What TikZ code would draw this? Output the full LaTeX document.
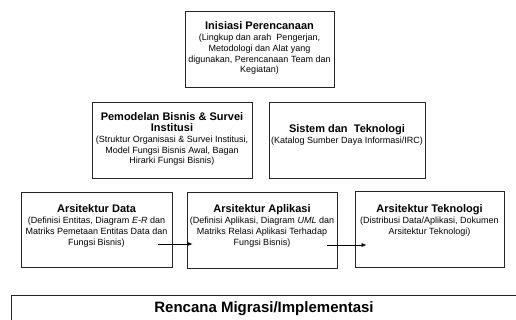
\documentclass[tikz,border=0pt]{standalone}
\usepackage{fontspec}
\setmainfont{Liberation Sans}
\usetikzlibrary{positioning, arrows.meta}

\begin{document}
\begin{tikzpicture}[
    x=1pt, y=-1pt,
    % Boxes of the planning phases
    phase/.style={draw=black!85, line width=0.8pt, inner sep=0pt},
    phasetext/.style={align=center, inner sep=0pt, anchor=north,
        font=\fontsize{9}{10.8}\selectfont},
    title/.style={font=\bfseries\fontsize{11}{12}\selectfont},
    % Arrows between the architecture boxes
    flow/.style={-{Latex[length=5pt,width=4pt]}, line width=0.6pt}
]
\clip (0,0) rectangle (516,320);

% ==========================================
% ROW 1: INITIATION
% ==========================================
\node[phase, minimum width=149pt, minimum height=76pt] (init) at (259.5,49) {};
\node[phasetext, below=11pt of init.north] (init_txt) {%
    {\bfseries\fontsize{11}{12}\selectfont Inisiasi Perencanaan}\\
    (Lingkup dan arah\ \ Pengerjan,\\
    Metodologi dan Alat yang\\
    digunakan, Perencanaan Team dan\\
    Kegiatan)};

% ==========================================
% ROW 2: BUSINESS MODEL AND SYSTEMS
% ==========================================
\node[phase, minimum width=160pt, minimum height=76pt] (model) at (172,140) {};
\node[phasetext, below=11pt of model.north] (model_txt) {%
    {\bfseries\fontsize{11}{12}\selectfont Pemodelan Bisnis \& Survei}\\
    {\bfseries\fontsize{11}{12}\selectfont Institusi}\\
    (Struktur Organisasi \& Survei Institusi,\\
    Model Fungsi Bisnis Awal, Bagan\\
    Hirarki Fungsi Bisnis)};

\node[phase, minimum width=156pt, minimum height=76pt] (sistem) at (347,140) {};
\node[phasetext, below=23pt of sistem.north] (sistem_txt) {%
    {\bfseries\fontsize{11}{12}\selectfont Sistem dan\ \ Teknologi}\\
    (Katalog Sumber Daya Informasi/IRC)};

% ==========================================
% ROW 3: ARCHITECTURES
% ==========================================
\node[phase, minimum width=151pt, minimum height=75pt] (data) at (96.5,229.5) {};
\node[phasetext, below=13pt of data.north] (data_txt) {%
    {\bfseries\fontsize{11}{12}\selectfont Arsitektur Data}\\
    (Definisi Entitas, Diagram \textit{E-R} dan\\
    Matriks Pemetaan Entitas Data dan\\
    Fungsi Bisnis)};

\node[phase, minimum width=150pt, minimum height=76pt] (aplikasi) at (262,230) {};
\node[phasetext, below=13pt of aplikasi.north] (aplikasi_txt) {%
    {\bfseries\fontsize{11}{12}\selectfont Arsitektur Aplikasi}\\
    (Definisi Aplikasi, Diagram \textit{UML} dan\\
    Matriks Relasi Aplikasi Terhadap\\
    Fungsi Bisnis)};

\node[phase, minimum width=149pt, minimum height=76pt] (teknologi) at (429.5,229) {};
\node[phasetext, below=14pt of teknologi.north] (teknologi_txt) {%
    {\bfseries\fontsize{11}{12}\selectfont Arsitektur Teknologi}\\
    (Distribusi Data/Aplikasi, Dokumen\\
    Arsitektur Teknologi)};

% Arrows (start inside the left box, end inside the right one)
\draw[flow] ([shift={(-14,14.5)}]data.east) coordinate (a1)
    -- ([xshift=6pt]aplikasi.west |- a1);
\draw[flow] ([shift={(-10,15)}]aplikasi.east) coordinate (a2)
    -- ([xshift=12pt]teknologi.west |- a2);

% ==========================================
% ROW 4: MIGRATION (runs off the page)
% ==========================================
\node[phase, minimum width=530pt, minimum height=50pt, anchor=north west] (migrasi) at (11,295) {};
\node[inner sep=0pt, font=\bfseries\fontsize{15}{18}\selectfont] (migrasi_txt) at (264,309)
    {Rencana Migrasi/Implementasi};

\end{tikzpicture}
\end{document}
